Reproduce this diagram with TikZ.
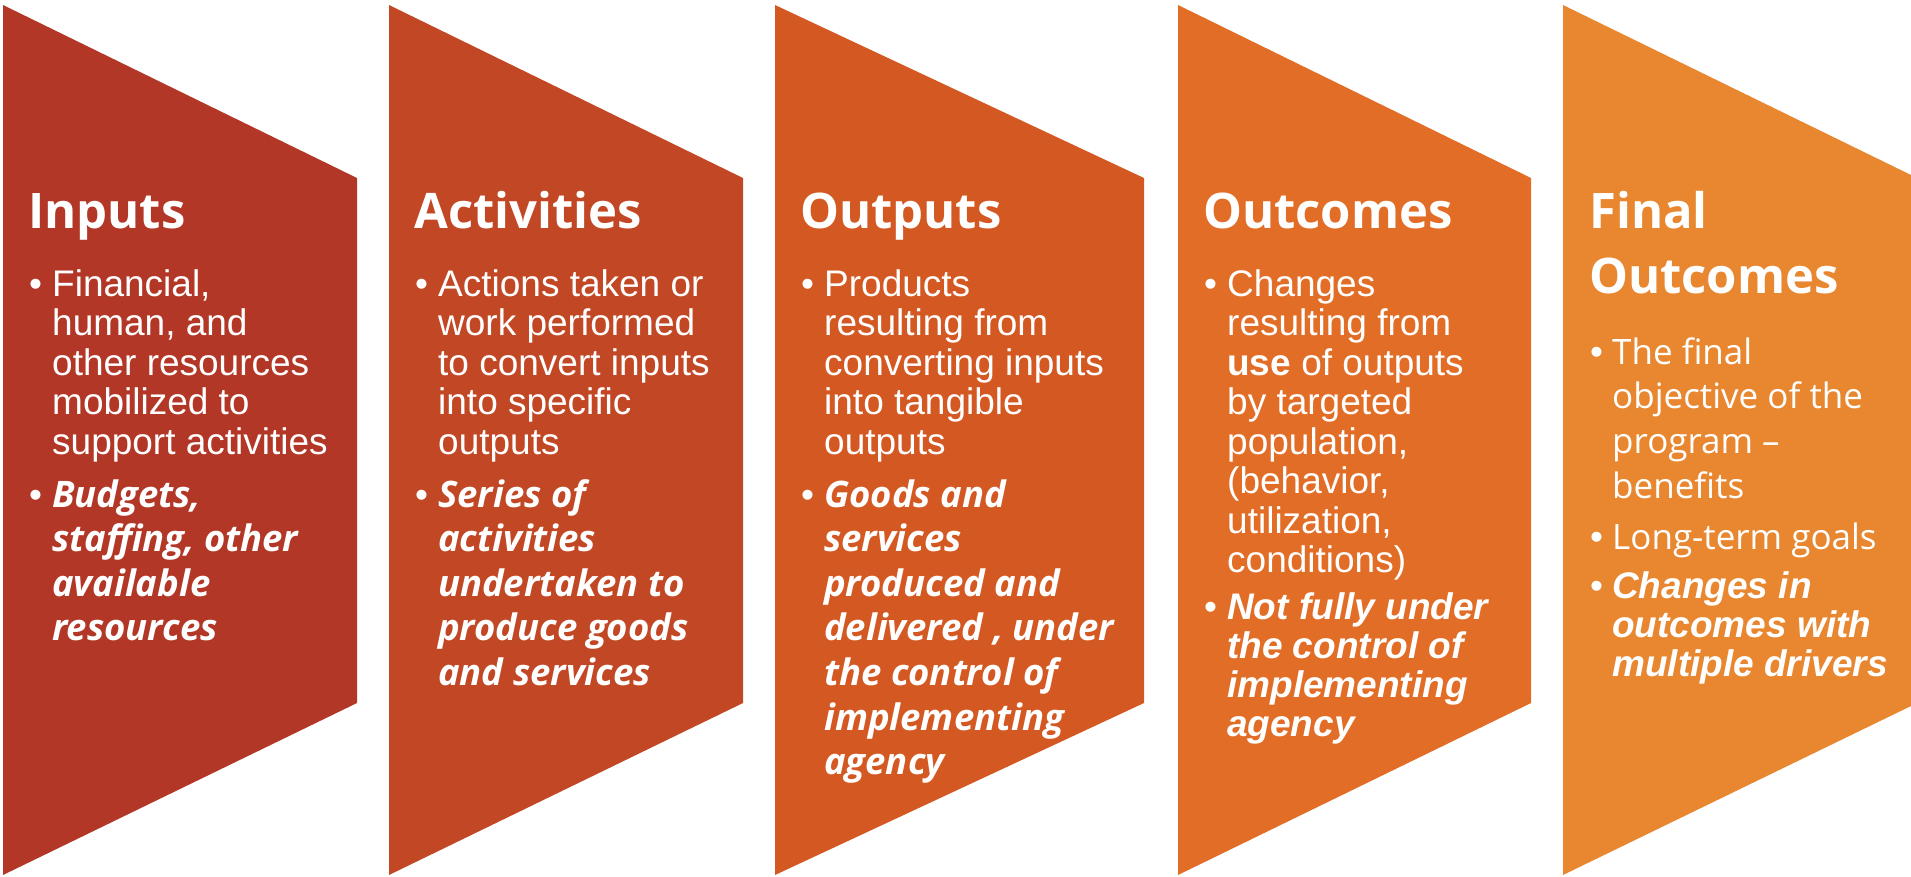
\documentclass[tikz,border=0pt]{standalone}
\usepackage{fontspec}
\setmainfont{Liberation Sans}
\newfontfamily\headfont{Open Sans}

\definecolor{cInputs}{HTML}{B23727}
\definecolor{cActivities}{HTML}{C24725}
\definecolor{cOutputs}{HTML}{D45822}
\definecolor{cOutcomes}{HTML}{E16D26}
\definecolor{cFinal}{HTML}{E8872F}

% stacked lines whose baseline is the first line
\newcommand\lns[1]{\begin{tabular}[t]{@{}l@{}}#1\end{tabular}}

\tikzset{
  txt/.style={text=white, inner sep=0pt, anchor=base west},
  head/.style={txt, font=\headfont\bfseries\fontsize{49}{65}\selectfont},
  body/.style={txt, font=\fontsize{37}{39.5}\selectfont},
  bul/.style={txt, font=\fontsize{37}{39.5}\selectfont},
  emph/.style={txt, font=\headfont\bfseries\itshape\fontsize{36.5}{44.6}\selectfont},
  emphA/.style={txt, font=\bfseries\itshape\fontsize{37}{39.3}\selectfont},
  soft/.style={txt, font=\headfont\fontsize{35}{44.7}\selectfont},
}

\begin{document}
\begin{tikzpicture}[x=1pt, y=-1pt]
\useasboundingbox (0,0) rectangle (1911,876);

% chevron panels
\fill[cInputs]     (3,5)    -- (357,178)  -- (357,703)  -- (3,875)    -- cycle;
\fill[cActivities] (389,5)  -- (743,178)  -- (743,703)  -- (389,875)  -- cycle;
\fill[cOutputs]    (775,5)  -- (1144,178) -- (1144,703) -- (775,875)  -- cycle;
\fill[cOutcomes]   (1178,5) -- (1531,178) -- (1531,703) -- (1178,875) -- cycle;
\fill[cFinal]      (1563,5) -- (1911,175) -- (1911,706) -- (1563,875) -- cycle;

% Inputs
\node[head] (h1) at (28,228) {Inputs};
\node[bul]  (b1a) at (29,296) {•};
\node[body] (t1a) at (52,296) {\lns{Financial,\\human, and\\other resources\\mobilized to\\support activities}};
\node[bul]  (b1b) at (29,507) {•};
\node[emph] (t1b) at (52,507) {\lns{Budgets,\\staffing, other\\available\\resources}};

% Activities
\node[head] (h2) at (414,228) {Activities};
\node[bul]  (b2a) at (415,296) {•};
\node[body] (t2a) at (438,296) {\lns{Actions taken or\\work performed\\to convert inputs\\into specific\\outputs}};
\node[bul]  (b2b) at (415,507) {•};
\node[emph] (t2b) at (438,507) {\lns{Series of\\activities\\undertaken to\\produce goods\\and services}};

% Outputs
\node[head] (h3) at (800,228) {Outputs};
\node[bul]  (b3a) at (801,296) {•};
\node[body] (t3a) at (824,296) {\lns{Products\\resulting from\\converting inputs\\into tangible\\outputs}};
\node[bul]  (b3b) at (801,507) {•};
\node[emph] (t3b) at (824,507) {\lns{Goods and\\services\\produced and\\delivered , under\\the control of\\implementing\\agency}};

% Outcomes
\node[head] (h4) at (1203,228) {Outcomes};
\node[bul]  (b4a) at (1204,296) {•};
\node[body] (t4a) at (1227,296) {\lns{Changes\\resulting from\\\textbf{use} of outputs\\by targeted\\population,\\(behavior,\\utilization,\\conditions)}};
\node[bul]  (b4b) at (1204,619) {•};
\node[emphA] (t4b) at (1227,619) {\lns{Not fully under\\the control of\\implementing\\agency}};

% Final Outcomes
\node[head] (h5) at (1589,228) {\lns{Final\\Outcomes}};
\node[bul]  (b5a) at (1590,364) {•};
\node[soft] (t5a) at (1612,364) {\lns{The final\\objective of the\\program –\\benefits}};
\node[bul]  (b5b) at (1590,549) {•};
\node[soft] (t5b) at (1612,549) {Long-term goals};
\node[bul]  (b5c) at (1590,598) {•};
\node[emphA] (t5c) at (1612,598) {\lns{Changes in\\outcomes with\\multiple drivers}};
\end{tikzpicture}
\end{document}
